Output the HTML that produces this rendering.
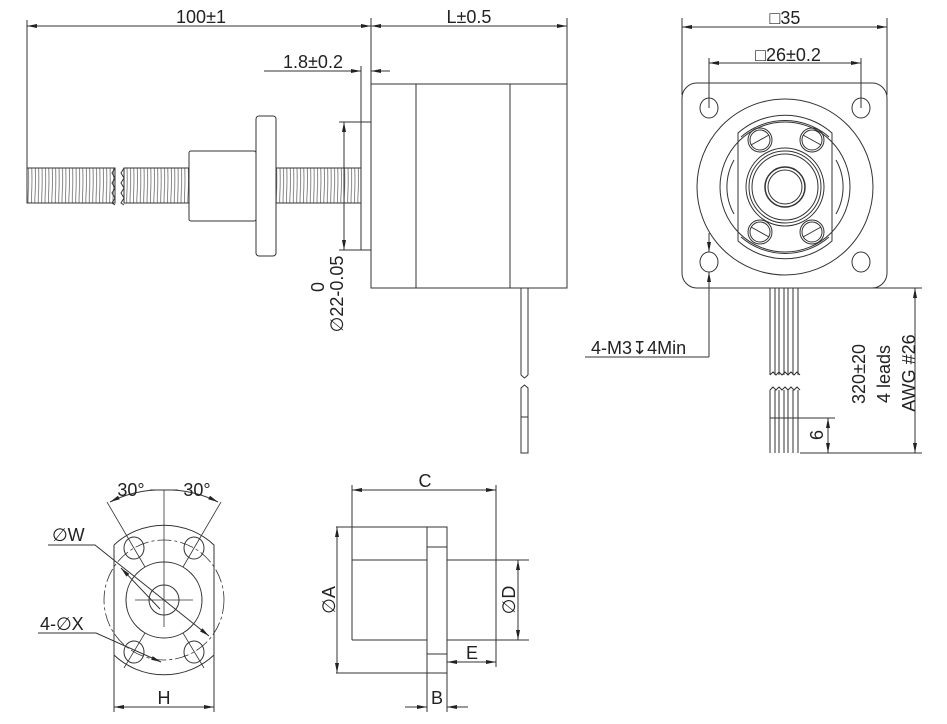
<!DOCTYPE html>
<html><head><meta charset="utf-8"><style>
html,body{margin:0;padding:0;background:#fff;}
svg{display:block;}
text{font-family:"Liberation Sans","DejaVu Sans",sans-serif;fill:#222;font-size:18px;}
</style></head><body>
<svg width="947" height="724" viewBox="0 0 947 724" xmlns="http://www.w3.org/2000/svg">
<defs>
<marker id="a" viewBox="0 0 10 4" refX="10" refY="2" markerWidth="10" markerHeight="4" markerUnits="userSpaceOnUse" orient="auto-start-reverse"><path d="M0,0L10,2L0,4z" fill="#222"/></marker>
<pattern id="th" width="3.4" height="40" patternUnits="userSpaceOnUse"><path d="M0.8,0 Q2,18 0.8,40" stroke="#555" stroke-width="0.7" fill="none"/></pattern>
</defs>
<g stroke="#333" stroke-width="1" fill="none">
<line x1="27" y1="20" x2="27" y2="168"/>
<line x1="371" y1="18" x2="371" y2="84"/>
<line x1="567" y1="18" x2="567" y2="84"/>
<line x1="27" y1="26" x2="371" y2="26" marker-start="url(#a)" marker-end="url(#a)"/>
<line x1="371" y1="26" x2="567" y2="26" marker-start="url(#a)" marker-end="url(#a)"/>
<line x1="264" y1="71" x2="361" y2="71" marker-end="url(#a)"/>
<line x1="390" y1="71" x2="371" y2="71" marker-end="url(#a)"/>
<line x1="361" y1="66" x2="361" y2="122"/>
<rect x="371" y="84" width="196" height="204"/>
<line x1="416" y1="84" x2="416" y2="288"/>
<line x1="510" y1="84" x2="510" y2="288"/>
<rect x="361" y="122" width="10" height="128"/>
<line x1="339" y1="122" x2="361" y2="122"/>
<line x1="339" y1="250" x2="361" y2="250"/>
<line x1="344" y1="122" x2="344" y2="250" marker-start="url(#a)" marker-end="url(#a)"/>
<rect x="27" y="168" width="88" height="35" fill="url(#th)"/>
<rect x="124" y="168" width="65" height="35" fill="url(#th)"/>
<rect x="276" y="168" width="85" height="35" fill="url(#th)"/>
<line x1="27" y1="168" x2="115" y2="168"/><line x1="27" y1="203" x2="115" y2="203"/>
<line x1="124" y1="168" x2="189" y2="168"/><line x1="124" y1="203" x2="189" y2="203"/>
<line x1="276" y1="168" x2="361" y2="168"/><line x1="276" y1="203" x2="361" y2="203"/>
<path d="M115,168 l-3,5 l3,5 l-3,5 l3,5 l-3,5 l3,5 l-3,5 l3,2"/>
<path d="M124,168 l-3,5 l3,5 l-3,5 l3,5 l-3,5 l3,5 l-3,5 l3,2"/>
<rect x="189" y="151" width="67" height="70" rx="2"/>
<rect x="256" y="116" width="20" height="140" rx="3"/>
<path d="M521,288 V375 M528,288 V375 M521,375 l3.5,3 l3.5,-3"/>
<path d="M521,453 V388 l3.5,-3 l3.5,3 V453 Z M521,417 H528"/>
<line x1="682" y1="18" x2="682" y2="95"/><line x1="887" y1="18" x2="887" y2="95"/>
<line x1="682" y1="27" x2="887" y2="27" marker-start="url(#a)" marker-end="url(#a)"/>
<line x1="709" y1="58" x2="709" y2="108"/><line x1="861" y1="58" x2="861" y2="108"/>
<line x1="709" y1="63" x2="861" y2="63" marker-start="url(#a)" marker-end="url(#a)"/>
<rect x="682" y="83" width="205" height="205" rx="15"/>
<ellipse cx="709" cy="108" rx="9" ry="10"/><ellipse cx="861" cy="108" rx="9" ry="10"/>
<ellipse cx="709" cy="262" rx="9" ry="10"/><ellipse cx="861" cy="262" rx="9" ry="10"/>
<circle cx="785" cy="187" r="88"/>
<circle cx="785" cy="187" r="65"/>
<path d="M734,160 A55,55 0 0 0 734,214 M836,160 A55,55 0 0 1 836,214"/>
<path d="M738,133 A71,71 0 0 1 832,133 V241 A71,71 0 0 1 738,241 Z"/>
<path d="M741,137 A67,67 0 0 1 829,137 M741,237 A67,67 0 0 0 829,237"/>
<g>
<circle cx="760" cy="140" r="12"/><circle cx="760" cy="140" r="10"/><line x1="751" y1="145" x2="769" y2="135"/>
<circle cx="812" cy="140" r="12"/><circle cx="812" cy="140" r="10"/><line x1="803" y1="135" x2="821" y2="145"/>
<circle cx="760" cy="232" r="12"/><circle cx="760" cy="232" r="10"/><line x1="751" y1="227" x2="769" y2="237"/>
<circle cx="812" cy="232" r="12"/><circle cx="812" cy="232" r="10"/><line x1="803" y1="237" x2="821" y2="227"/>
</g>
<circle cx="785" cy="187" r="39"/><circle cx="785" cy="187" r="36"/><circle cx="785" cy="187" r="33"/>
<circle cx="785" cy="187" r="20" stroke-width="1.5"/><circle cx="785" cy="187" r="17"/>
<line x1="709" y1="233" x2="709" y2="252" marker-end="url(#a)"/>
<line x1="709" y1="357" x2="709" y2="272" marker-end="url(#a)"/>
<line x1="585" y1="357" x2="709" y2="357"/>
<path d="M770,288 V375 M775,288 V375 M779,288 V375 M784,288 V375 M788,288 V375 M793,288 V375 M798,288 V375"/>
<path d="M770,375 l3,-3 l3,3 l3,-3 l3,3 l3,-3 l3,3 l3,-3 l3,3 l3,-3 l3,3 M770,390 l3,-3 l3,3 l3,-3 l3,3 l3,-3 l3,3 l3,-3 l3,3 l3,-3 l3,3"/>
<path d="M770,390 V453 M775,390 V453 M779,390 V453 M784,390 V453 M788,390 V453 M793,390 V453 M798,390 V453 M770,418 H835"/>
<line x1="800" y1="288" x2="922" y2="288"/><line x1="800" y1="453" x2="922" y2="453"/>
<line x1="915" y1="288" x2="915" y2="453" marker-start="url(#a)" marker-end="url(#a)"/>
<line x1="828" y1="418" x2="828" y2="453" marker-start="url(#a)" marker-end="url(#a)"/>
<circle cx="164" cy="600" r="60" stroke-dasharray="14 3 3 3" stroke-width="0.8"/>
<path d="M114,545 A73,73 0 0 1 214,545 V694 M114,545 V694 M114,655 A73,73 0 0 0 214,655"/>
<circle cx="164" cy="600" r="38"/><circle cx="164" cy="600" r="15"/>
<ellipse cx="134" cy="548" rx="10" ry="11"/><ellipse cx="194" cy="548" rx="10" ry="11"/>
<ellipse cx="134" cy="652" rx="10" ry="11"/><ellipse cx="194" cy="652" rx="10" ry="11"/>
<line x1="135" y1="600" x2="193" y2="600" stroke-width="0.8"/>
<line x1="164" y1="490" x2="164" y2="627" stroke-width="0.8"/>
<line x1="107" y1="502" x2="145" y2="567" stroke-width="0.8"/>
<line x1="221" y1="502" x2="183" y2="567" stroke-width="0.8"/>
<line x1="183" y1="633" x2="204" y2="668" stroke-width="0.8"/>
<line x1="145" y1="633" x2="124" y2="668" stroke-width="0.8"/>
<path d="M156,490 A113,113 0 0 0 110,502" marker-end="url(#a)"/>
<path d="M172,490 A113,113 0 0 1 218,502" marker-end="url(#a)"/>
<line x1="150" y1="490" x2="178" y2="490"/>
<path d="M48,545 H95 L209,636" marker-end="url(#a)"/>
<line x1="160" y1="609" x2="121" y2="568" marker-end="url(#a)"/>
<path d="M38,633 H96 L161,662" marker-end="url(#a)"/>
<line x1="114" y1="694" x2="114" y2="712"/><line x1="214" y1="694" x2="214" y2="712"/>
<line x1="114" y1="707" x2="214" y2="707" marker-start="url(#a)" marker-end="url(#a)"/>
<line x1="352" y1="485" x2="352" y2="640"/>
<line x1="496" y1="485" x2="496" y2="667"/>
<line x1="352" y1="490" x2="496" y2="490" marker-start="url(#a)" marker-end="url(#a)"/>
<path d="M352,560 H427 M352,640 H427"/>
<rect x="427" y="527" width="20" height="146"/>
<path d="M427,547 H447 M427,654 H447"/>
<path d="M447,560 H529 M447,640 H529"/>
<line x1="336" y1="527" x2="427" y2="527"/><line x1="336" y1="673" x2="427" y2="673"/>
<line x1="337" y1="527" x2="337" y2="673" marker-start="url(#a)" marker-end="url(#a)"/>
<line x1="518" y1="560" x2="518" y2="640" marker-start="url(#a)" marker-end="url(#a)"/>
<line x1="447" y1="662" x2="496" y2="662" marker-start="url(#a)" marker-end="url(#a)"/>
<line x1="427" y1="673" x2="427" y2="712"/><line x1="447" y1="673" x2="447" y2="712"/>
<line x1="405" y1="707" x2="427" y2="707" marker-end="url(#a)"/>
<line x1="468" y1="707" x2="447" y2="707" marker-end="url(#a)"/>
</g>
<text x="201" y="23" text-anchor="middle">100±1</text>
<text x="469" y="23" text-anchor="middle">L±0.5</text>
<text x="313" y="68" text-anchor="middle">1.8±0.2</text>
<text transform="translate(343,294) rotate(-90)" text-anchor="middle">∅22-0.05</text>
<text transform="translate(324,287) rotate(-90)" text-anchor="middle">0</text>
<text x="785" y="24" text-anchor="middle">□35</text>
<text x="788" y="61" text-anchor="middle">□26±0.2</text>
<text x="591" y="354">4-M3↧4Min</text>
<text transform="translate(865,374) rotate(-90)" text-anchor="middle">320±20</text>
<text transform="translate(890,374) rotate(-90)" text-anchor="middle">4 leads</text>
<text transform="translate(915,373) rotate(-90)" text-anchor="middle">AWG #26</text>
<text transform="translate(823,435) rotate(-90)" text-anchor="middle">6</text>
<text x="131" y="496" text-anchor="middle">30°</text>
<text x="197" y="496" text-anchor="middle">30°</text>
<text x="52" y="541">∅W</text>
<text x="40" y="630">4-∅X</text>
<text x="164" y="704" text-anchor="middle">H</text>
<text x="425" y="487" text-anchor="middle">C</text>
<text transform="translate(335,600) rotate(-90)" text-anchor="middle">∅A</text>
<text transform="translate(515,600) rotate(-90)" text-anchor="middle">∅D</text>
<text x="472" y="659" text-anchor="middle">E</text>
<text x="437" y="704" text-anchor="middle">B</text>
</svg>
</body></html>
